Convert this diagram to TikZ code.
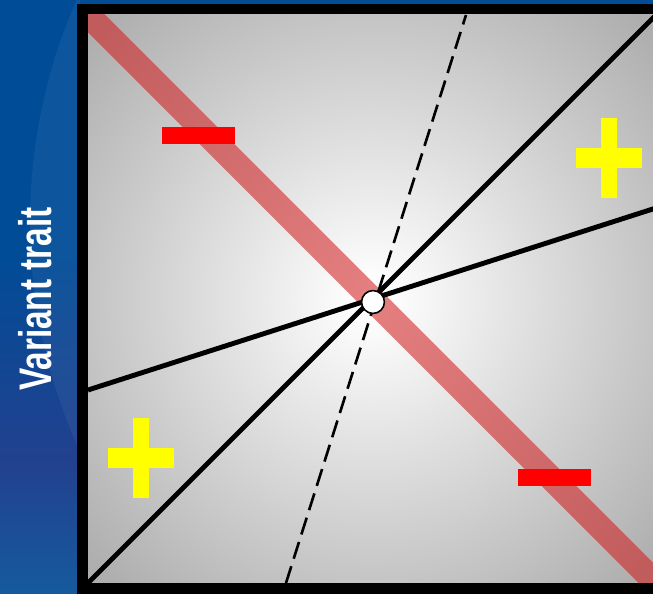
\documentclass[tikz,border=0pt]{standalone}
\usepackage{fontspec}
\setsansfont{Liberation Sans}
\usepackage{xcolor}
\usepackage{tikz}
\usetikzlibrary{positioning}
\definecolor{bgTop}{HTML}{004C97}
\definecolor{bgMid}{HTML}{22418F}
\definecolor{bgBot}{HTML}{0B6EA8}
\definecolor{plotGray}{HTML}{AEAEAE}
\definecolor{bandRed}{HTML}{D11E1E}
\definecolor{minusRed}{HTML}{FF0000}
\definecolor{plusYellow}{HTML}{FFFF00}
\pgfdeclareradialshading{glow}{\pgfpoint{0bp}{0bp}}{color(0bp)=(white); color(1bp)=(white); color(34bp)=(plotGray); color(50bp)=(plotGray)}
\pgfdeclareverticalshading{strip}{100bp}{color(0bp)=(bgBot); color(16bp)=(bgBot); color(36bp)=(bgMid); color(54bp)=(bgTop); color(100bp)=(bgTop)}

\begin{document}
\begin{tikzpicture}[x=0.02cm, y=-0.02cm,
  band/.style={draw=bandRed, draw opacity=0.57, line width=14pt},
  trend/.style={draw=black, line width=2.8pt},
  guide/.style={draw=black, line width=1.5pt, dash pattern=on 10pt off 4.5pt},
  pivot/.style={circle, draw=black, fill=white, line width=0.9pt, minimum size=13pt, inner sep=0pt},
  minus/.style={rectangle, fill=minusRed, inner sep=0pt, minimum width=41.4pt, minimum height=9.6pt},
  plusV/.style={rectangle, fill=plusYellow, inner sep=0pt, minimum width=9.1pt, minimum height=45.4pt},
  plusH/.style={rectangle, fill=plusYellow, inner sep=0pt, minimum width=37.4pt, minimum height=11.3pt},
  axislabel/.style={font=\sffamily\bfseries\fontsize{26}{30}\selectfont, text=white, inner sep=0pt}]
\useasboundingbox (0,0) rectangle (653,594);
\shade[shading=strip] (0,0) rectangle (653,594);
\begin{scope}
\clip (0,0) rectangle (80,594);
\fill[white, opacity=0.05] (580,222) circle[radius=550];
\end{scope}
\node[axislabel, rotate=90] (ylab) at (35,299) {\scalebox{0.73}[1]{Variant trait}};
\shade[shading=glow] (88,15) rectangle (656,583);
\coordinate (bandA) at (60,-13);
\coordinate (bandB) at (684,611);
\coordinate (bl) at (88,583);
\coordinate (tr) at (656,15);
\coordinate (shA) at (88,390);
\coordinate (shB) at (656,208);
\coordinate (dsA) at (286,583);
\coordinate (dsB) at (466,15);
\begin{scope}
\clip (88,15) rectangle (656,583);
\draw[band] (bandA) -- (bandB);
\draw[trend] (bl) -- (tr);
\draw[trend] (shA) -- (shB);
\draw[guide] (dsA) -- (dsB);
\end{scope}
\node[pivot] (mid) at (373,302) {};
\node[minus] (minusTL) at (198.5,135.5) {};
\node[minus] (minusBR) at (554.5,477.5) {};
\node[plusV] (plusBL) at (141,458) {};
\node[plusH] at (plusBL) {};
\node[plusV] (plusTR) at (609,158) {};
\node[plusH] at (plusTR) {};
\draw[line width=6.2pt] (82.5,9) rectangle (700,588.5);
\end{tikzpicture}
\end{document}
